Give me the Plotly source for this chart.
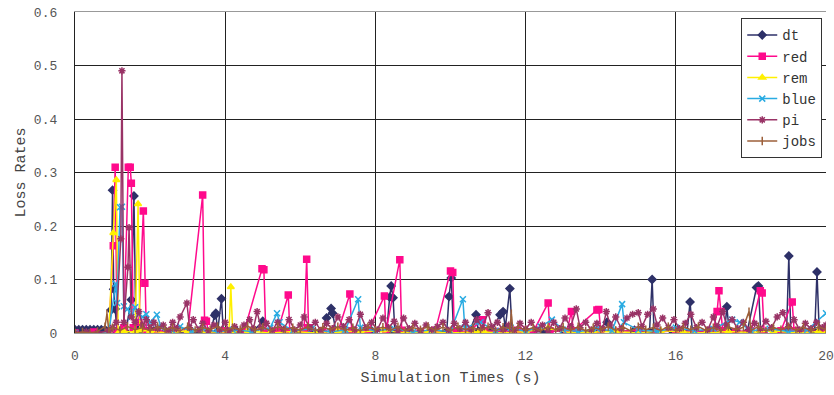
import plotly.graph_objects as go

# (time s, loss rate) samples
dt_samples = [(0.0,0.006),(0.1,0.006),(0.2,0.006),(0.3,0.006),(0.4,0.006),(0.5,0.006),(0.6,0.006),(0.7,0.006),(0.8,0.006),(0.9,0.004),
    (0.96,0.043),(1.0,0.267),(1.03,0.082),(1.07,0.045),(1.12,0.0),(1.2,0.004),(1.35,0.002),(1.5,0.062),(1.57,0.256),(1.62,0.01),
    (1.75,0.003),(1.9,0.0),(2.1,0.004),(2.4,0.002),(2.7,0.0),(3.0,0.003),(3.3,0.002),(3.6,0.0),(3.72,0.033),(3.75,0.037),
    (3.8,0.003),(3.9,0.064),(3.95,0.002),(4.3,0.004),(4.7,0.0),(5.0,0.022),(5.05,0.002),(5.5,0.003),(6.0,0.0),(6.3,0.005),
    (6.6,0.002),(6.7,0.028),(6.82,0.046),(6.86,0.037),(6.95,0.003),(7.4,0.002),(7.9,0.004),(8.3,0.003),(8.38,0.067),(8.42,0.088),
    (8.47,0.066),(8.52,0.002),(8.9,0.004),(9.4,0.0),(9.9,0.003),(9.96,0.068),(10.02,0.103),(10.08,0.004),(10.5,0.002),(10.68,0.034),
    (10.74,0.003),(11.1,0.005),(11.32,0.034),(11.4,0.04),(11.46,0.01),(11.58,0.083),(11.64,0.003),(12.0,0.004),(12.5,0.002),(13.0,0.005),
    (13.4,0.0),(13.9,0.004),(14.17,0.02),(14.4,0.002),(14.9,0.005),(15.3,0.002),(15.37,0.1),(15.42,0.003),(15.9,0.004),(16.3,0.002),
    (16.38,0.058),(16.44,0.003),(16.9,0.004),(17.3,0.002),(17.36,0.049),(17.42,0.004),(17.9,0.002),(18.15,0.085),(18.2,0.088),(18.26,0.003),
    (18.6,0.004),(18.95,0.002),(19.01,0.144),(19.06,0.003),(19.4,0.004),(19.7,0.002),(19.76,0.114),(19.82,0.003),(20.0,0.002)]

red_samples = [(0.0,0.0),(0.5,0.002),(0.9,0.0),(1.02,0.163),(1.07,0.31),(1.12,0.0),(1.3,0.01),(1.42,0.31),(1.47,0.31),(1.5,0.28),
    (1.55,0.01),(1.7,0.02),(1.82,0.228),(1.86,0.093),(1.9,0.004),(2.2,0.003),(2.6,0.005),(3.0,0.002),(3.4,0.258),(3.45,0.024),
    (3.5,0.022),(3.55,0.002),(4.0,0.004),(4.5,0.002),(4.98,0.12),(5.03,0.118),(5.08,0.003),(5.4,0.004),(5.68,0.071),(5.72,0.004),
    (6.1,0.003),(6.17,0.138),(6.22,0.01),(6.6,0.004),(7.0,0.002),(7.32,0.073),(7.37,0.004),(7.8,0.003),(8.24,0.069),(8.28,0.003),
    (8.65,0.137),(8.7,0.005),(9.2,0.003),(9.6,0.005),(10.0,0.116),(10.06,0.113),(10.1,0.004),(10.5,0.003),(10.85,0.025),(10.9,0.004),
    (11.3,0.003),(11.8,0.005),(12.2,0.002),(12.6,0.056),(12.65,0.004),(13.1,0.003),(13.22,0.04),(13.27,0.004),(13.9,0.043),(13.95,0.044),
    (14.0,0.004),(14.5,0.003),(15.0,0.005),(15.5,0.002),(16.0,0.004),(16.5,0.003),(17.0,0.005),(17.1,0.04),(17.15,0.079),(17.2,0.04),
    (17.25,0.004),(17.6,0.003),(18.0,0.004),(18.25,0.079),(18.3,0.075),(18.35,0.003),(18.8,0.004),(19.1,0.058),(19.15,0.004),(19.5,0.003),
    (20.0,0.004)]

rem_samples = [(0.0,0.0),(0.9,0.0),(1.02,0.187),(1.1,0.286),(1.15,0.0),(1.3,0.003),(1.6,0.002),(1.68,0.241),(1.73,0.005),(2.0,0.003),
    (2.5,0.0),(3.0,0.004),(3.5,0.002),(4.1,0.002),(4.15,0.086),(4.2,0.002),(4.6,0.004),(5.2,0.0),(5.8,0.003),(6.4,0.0),
    (7.0,0.004),(7.6,0.002),(8.2,0.005),(8.8,0.0),(9.4,0.003),(10.0,0.0),(10.6,0.002),(10.75,0.001),(10.9,0.002),(11.4,0.0),
    (12.0,0.003),(12.6,0.009),(13.2,0.0),(13.8,0.002),(14.4,0.003),(15.0,0.0),(15.6,0.004),(16.2,0.002),(16.8,0.0),(17.4,0.003),
    (18.0,0.001),(18.6,0.004),(19.2,0.0),(19.8,0.003),(20.0,0.0)]

blue_samples = [(0.0,0.0),(0.9,0.0),(1.08,0.092),(1.12,0.056),(1.2,0.235),(1.25,0.236),(1.3,0.05),(1.4,0.045),(1.5,0.03),(1.6,0.048),
    (1.7,0.035),(1.8,0.03),(1.9,0.035),(2.0,0.02),(2.18,0.034),(2.3,0.01),(2.6,0.004),(2.8,0.012),(3.1,0.003),(3.4,0.008),
    (3.8,0.002),(4.2,0.006),(4.7,0.003),(5.2,0.01),(5.38,0.037),(5.45,0.02),(5.8,0.004),(6.3,0.008),(6.8,0.002),(7.2,0.006),
    (7.54,0.063),(7.6,0.01),(8.0,0.004),(8.5,0.008),(9.0,0.002),(9.5,0.006),(10.0,0.003),(10.33,0.063),(10.38,0.01),(10.8,0.02),
    (11.2,0.004),(11.6,0.01),(12.0,0.003),(12.4,0.012),(12.7,0.025),(13.0,0.006),(13.4,0.003),(13.9,0.008),(14.3,0.004),(14.57,0.054),
    (14.62,0.02),(15.0,0.006),(15.5,0.003),(16.0,0.01),(16.5,0.004),(17.0,0.008),(17.5,0.025),(17.7,0.02),(18.0,0.004),(18.5,0.008),
    (19.0,0.003),(19.5,0.006),(20.0,0.037)]

pi_samples = [(0.0,0.0),(0.3,0.002),(0.6,0.0),(0.9,0.004),(1.0,0.01),(1.1,0.02),(1.22,0.176),(1.25,0.49),(1.3,0.02),(1.41,0.123),
    (1.44,0.197),(1.5,0.03),(1.6,0.02),(1.7,0.04),(1.8,0.015),(1.9,0.025),(2.0,0.01),(2.1,0.02),(2.2,0.008),(2.35,0.015),
    (2.5,0.005),(2.6,0.02),(2.7,0.008),(2.8,0.03),(2.98,0.056),(3.05,0.01),(3.15,0.025),(3.3,0.006),(3.4,0.018),(3.55,0.004),
    (3.7,0.015),(3.85,0.006),(4.0,0.02),(4.1,0.004),(4.25,0.012),(4.4,0.003),(4.5,0.015),(4.65,0.025),(4.75,0.008),(4.85,0.04),
    (4.95,0.01),(5.1,0.018),(5.25,0.005),(5.4,0.02),(5.55,0.007),(5.7,0.025),(5.85,0.006),(6.0,0.015),(6.1,0.03),(6.25,0.01),
    (6.4,0.02),(6.55,0.005),(6.7,0.018),(6.85,0.008),(7.0,0.03),(7.15,0.012),(7.3,0.025),(7.45,0.006),(7.6,0.035),(7.75,0.01),
    (7.9,0.02),(8.05,0.006),(8.2,0.028),(8.35,0.01),(8.5,0.022),(8.6,0.004),(8.75,0.028),(8.9,0.008),(9.05,0.018),(9.2,0.004),
    (9.35,0.015),(9.5,0.006),(9.65,0.012),(9.8,0.02),(9.95,0.005),(10.1,0.018),(10.25,0.008),(10.4,0.02),(10.55,0.006),(10.7,0.025),
    (10.85,0.01),(11.0,0.038),(11.1,0.012),(11.25,0.02),(11.4,0.006),(11.55,0.015),(11.7,0.005),(11.85,0.018),(12.0,0.008),(12.15,0.02),
    (12.3,0.006),(12.45,0.015),(12.6,0.004),(12.75,0.02),(12.9,0.008),(13.05,0.028),(13.2,0.012),(13.35,0.045),(13.45,0.01),(13.6,0.02),
    (13.75,0.006),(13.9,0.018),(14.05,0.008),(14.15,0.04),(14.25,0.015),(14.4,0.03),(14.55,0.008),(14.7,0.028),(14.85,0.035),(15.0,0.038),
    (15.1,0.012),(15.25,0.035),(15.4,0.045),(15.5,0.015),(15.65,0.028),(15.8,0.01),(15.95,0.025),(16.1,0.008),(16.25,0.018),(16.4,0.035),
    (16.55,0.01),(16.7,0.02),(16.85,0.006),(17.0,0.03),(17.1,0.012),(17.25,0.04),(17.35,0.015),(17.5,0.025),(17.65,0.008),(17.8,0.02),
    (17.95,0.006),(18.1,0.018),(18.25,0.008),(18.4,0.022),(18.55,0.01),(18.7,0.03),(18.85,0.038),(19.0,0.012),(19.15,0.025),(19.3,0.006),
    (19.45,0.018),(19.6,0.008),(19.75,0.02),(19.9,0.01),(20.0,0.015)]

jobs_samples = [(0.0,0.0),(0.2,0.002),(0.4,0.0),(0.6,0.003),(0.8,0.012),(0.85,0.036),(0.9,0.004),(1.0,0.01),(1.2,0.005),(1.4,0.012),
    (1.6,0.006),(1.8,0.01),(2.0,0.004),(2.2,0.012),(2.4,0.006),(2.6,0.01),(2.8,0.004),(3.0,0.012),(3.2,0.005),(3.4,0.01),
    (3.6,0.006),(3.8,0.012),(4.0,0.004),(4.2,0.01),(4.4,0.006),(4.6,0.013),(4.8,0.005),(5.0,0.011),(5.2,0.004),(5.4,0.012),
    (5.6,0.006),(5.8,0.01),(6.0,0.005),(6.2,0.012),(6.4,0.004),(6.6,0.011),(6.8,0.006),(7.0,0.012),(7.2,0.005),(7.4,0.01),
    (7.6,0.004),(7.8,0.012),(8.0,0.006),(8.2,0.011),(8.4,0.005),(8.6,0.012),(8.8,0.004),(9.0,0.01),(9.2,0.006),(9.4,0.012),
    (9.6,0.005),(9.8,0.011),(10.0,0.004),(10.2,0.012),(10.4,0.006),(10.6,0.01),(10.8,0.005),(11.0,0.012),(11.2,0.004),(11.4,0.011),
    (11.58,0.008),(11.62,0.036),(11.66,0.006),(11.8,0.012),(12.0,0.005),(12.2,0.01),(12.4,0.004),(12.6,0.012),(12.8,0.006),(13.0,0.011),
    (13.2,0.005),(13.4,0.012),(13.6,0.004),(13.8,0.01),(14.0,0.006),(14.2,0.012),(14.4,0.005),(14.6,0.011),(14.8,0.004),(15.0,0.012),
    (15.2,0.006),(15.4,0.01),(15.6,0.005),(15.8,0.012),(16.0,0.004),(16.2,0.011),(16.4,0.006),(16.6,0.012),(16.8,0.005),(17.0,0.01),
    (17.2,0.004),(17.4,0.012),(17.6,0.006),(17.8,0.011),(17.95,0.04),(18.0,0.005),(18.2,0.012),(18.4,0.004),(18.6,0.01),(18.8,0.006),
    (19.0,0.012),(19.2,0.005),(19.4,0.011),(19.6,0.004),(19.8,0.012),(20.0,0.006)]

x_ticks = [0, 4, 8, 12, 16, 20]
y_ticks = [0, 0.1, 0.2, 0.3, 0.4, 0.5, 0.6]
y_tick_labels = ["0", "0.1", "0.2", "0.3", "0.4", "0.5", "0.6"]

series = [
    ("dt", dt_samples, "#2E3168", "diamond"),
    ("red", red_samples, "#FF0A8C", "square"),
    ("rem", rem_samples, "#FFF000", "triangle-up"),
    ("blue", blue_samples, "#29ABE2", "x-thin-open"),
    ("pi", pi_samples, "#993366", "asterisk-open"),
    ("jobs", jobs_samples, "#9C5F3A", "line-ns-open"),
]

FONT = "Liberation Mono, Courier New, monospace"

fig = go.Figure()
for name, samples, color, symbol in series:
    xs = [p[0] for p in samples]
    ys = [p[1] for p in samples]
    fig.add_trace(go.Scatter(
        x=xs, y=ys, name=name, mode="lines+markers",
        line=dict(color=color, width=1.5),
        marker=dict(symbol=symbol, size=6, color=color, line=dict(color=color, width=1.5)),
    ))

fig.update_layout(
    width=834, height=395,
    margin=dict(l=75, r=8, t=12, b=62, autoexpand=False),
    paper_bgcolor="white", plot_bgcolor="white",
    font=dict(family=FONT, color="#444"),
    showlegend=True,
    legend=dict(
        x=0.995, y=0.98, xanchor="right", yanchor="top",
        bgcolor="white", bordercolor="#333", borderwidth=1,
        font=dict(family=FONT, size=14, color="#333"),
        itemwidth=30, tracegroupgap=0,
    ),
    xaxis=dict(
        range=[0, 20], tickvals=x_ticks, ticktext=[str(v) for v in x_ticks],
        showgrid=True, gridcolor="#222", gridwidth=1.3,
        showline=True, linecolor="#999", linewidth=1, mirror=True,
        zeroline=False, ticks="", ticklabelstandoff=10, automargin=False,
        tickfont=dict(family=FONT, size=13, color="#555"),
        title=dict(text="Simulation Times (s)", font=dict(family=FONT, size=15, color="#444"), standoff=8),
    ),
    yaxis=dict(
        range=[0, 0.6], tickvals=y_ticks, ticktext=y_tick_labels,
        showgrid=True, gridcolor="#222", gridwidth=1.3,
        showline=True, linecolor="#222", linewidth=1.3, mirror=False,
        zeroline=False, ticks="", ticklabelstandoff=14, automargin=False,
        tickfont=dict(family=FONT, size=13, color="#555"),
        title=dict(text="Loss Rates", font=dict(family=FONT, size=15, color="#444"), standoff=4),
    ),
)

fig.write_html("out.html", config={"displayModeBar": False},
               post_script="document.body.style.margin='0';")
